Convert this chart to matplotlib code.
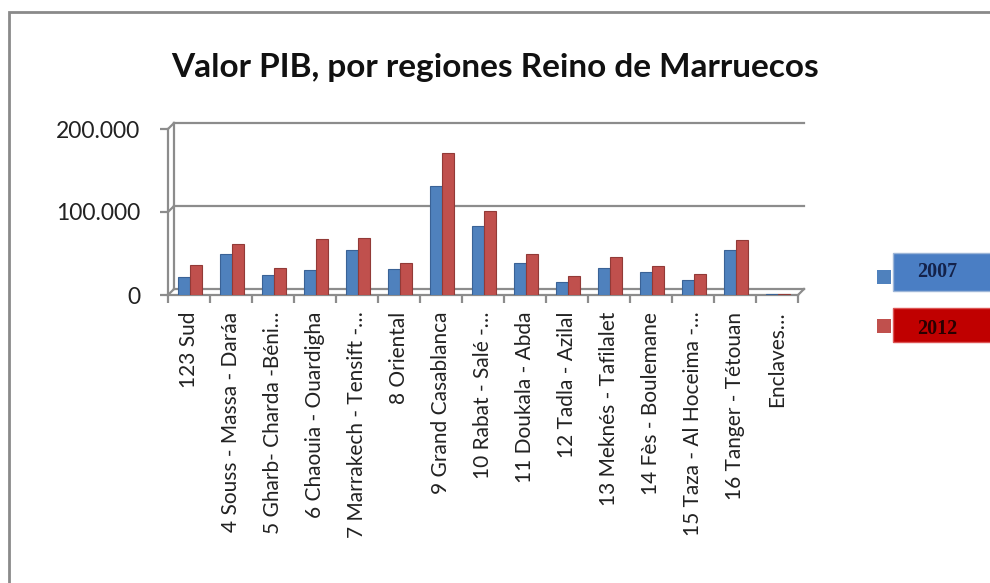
'''
Valor PIB por regiones - Reino de Marruecos
'''

import numpy as np
import matplotlib
matplotlib.use("Agg")
import matplotlib.pyplot as plt
import matplotlib.transforms as mtransforms
from matplotlib.patches import Rectangle

plt.rcParams['font.family'] = ['Lato', 'DejaVu Sans']

regions = ["123 Sud", "4 Souss - Massa - Daráa", "5 Gharb- Charda -Béni…",
           "6 Chaouia - Ouardigha", "7 Marrakech - Tensift -…", "8 Oriental",
           "9 Grand Casablanca", "10 Rabat - Salé -…", "11 Doukala - Abda",
           "12 Tadla - Azilal", "13 Meknés - Tafilalet", "14 Fès - Boulemane",
           "15 Taza - Al Hoceima -…", "16 Tanger - Tétouan", "Enclaves…"]
pib_2007 = [21500, 49000, 23500, 30000, 54500, 31500, 131000, 83000, 38500,
            15500, 32500, 28000, 18500, 54000, 1000]
pib_2012 = [36000, 61000, 33000, 67500, 69000, 39000, 170500, 101000, 50000,
            22500, 45500, 34500, 25000, 66000, 1000]
years = ["2007", "2012"]

BLUE = "#4F81BD"
RED = "#C0504D"
GRID = "#8c8c8c"
W, H = 990, 583

fig = plt.figure(figsize=(9.9, 5.83), dpi=100)
ax = fig.add_axes([168 / W, 1 - 295 / H, (798 - 168) / W, (295 - 129) / H])

x = np.arange(len(regions))
w = 0.29
ax.bar(x - 0.12, pib_2007, w, color=BLUE, edgecolor="#3A6296", linewidth=0.8, zorder=3)
ax.bar(x + 0.17, pib_2012, w, color=RED, edgecolor="#923A37", linewidth=0.8, zorder=3)

ax.set_xlim(-0.5, len(regions) - 0.5)
ax.set_ylim(0, 200000)

# back wall lines, shifted up/right to fake the 3D depth
back = ax.transData + mtransforms.ScaledTranslation(0.06, 0.06, fig.dpi_scale_trans)
for v in [0, 100000, 200000]:
    ax.plot([-0.5, len(regions) - 0.5], [v, v], color=GRID, lw=1.6,
            transform=back, zorder=1, clip_on=False)
ax.plot([-0.5, -0.5], [0, 200000], color=GRID, lw=1.6, transform=back, clip_on=False)


def connector(xv, yv):
    # slanted line from the front edge to the back wall
    p0 = ax.transData.transform((xv, yv))
    p1 = back.transform((xv, yv))
    fig.add_artist(plt.Line2D([p0[0] / W, p1[0] / W], [p0[1] / H, p1[1] / H],
                              color=GRID, lw=1.6))


for v in [0, 100000, 200000]:
    connector(-0.5, v)
connector(len(regions) - 0.5, 0)

for s in ["top", "right"]:
    ax.spines[s].set_visible(False)
for s in ["left", "bottom"]:
    ax.spines[s].set_color(GRID)
    ax.spines[s].set_linewidth(1.6)

ax.set_yticks([0, 100000, 200000])
ax.set_yticklabels(["0", "100.000", "200.000"], fontsize=16.5, color="#222222")
ax.tick_params(axis="y", length=6, width=1.6, color=GRID, pad=14)

ax.set_xticks(x)
ax.set_xticklabels(regions, rotation=90, fontsize=15, color="#222222")
ax.set_xticks(np.arange(len(regions) + 1) - 0.5, minor=True)
ax.tick_params(axis="x", which="major", length=0, pad=12)
ax.tick_params(axis="x", which="minor", length=6, width=1.6, color=GRID)

fig.text(0.5, 1 - 68 / H, "Valor PIB, por regiones Reino de Marruecos",
         ha="center", va="center", fontsize=24, fontweight="bold", color="#111111")

# legend: coloured boxes with the year inside
fig.add_artist(Rectangle((893 / W, 1 - 291 / H), 100 / W, 38 / H,
                         transform=fig.transFigure, facecolor="#4A7EC4",
                         edgecolor="#9db6d8", lw=1))
fig.add_artist(Rectangle((893 / W, 1 - 342 / H), 100 / W, 34 / H,
                         transform=fig.transFigure, facecolor="#C00000",
                         edgecolor="#d55", lw=1))
fig.add_artist(Rectangle((877 / W, 1 - 284 / H), 14 / W, 14 / H,
                         transform=fig.transFigure, facecolor=BLUE, edgecolor="none"))
fig.add_artist(Rectangle((877 / W, 1 - 333 / H), 14 / W, 14 / H,
                         transform=fig.transFigure, facecolor=RED, edgecolor="none"))
fig.text(937 / W, 1 - 272 / H, years[0], ha="center", va="center", fontsize=14.5,
         fontweight="bold", family=["Liberation Serif"], color="#14224a")
fig.text(937 / W, 1 - 329 / H, years[1], ha="center", va="center", fontsize=14.5,
         fontweight="bold", family=["Liberation Serif"], color="#2a0000")

# chart area frame
fig.add_artist(Rectangle((9 / W, -0.01), 1.0, 1 - 12 / H + 0.01,
                         transform=fig.transFigure, facecolor="none",
                         edgecolor="#8a8a8a", lw=2))

fig.savefig("out.png", dpi=100)
